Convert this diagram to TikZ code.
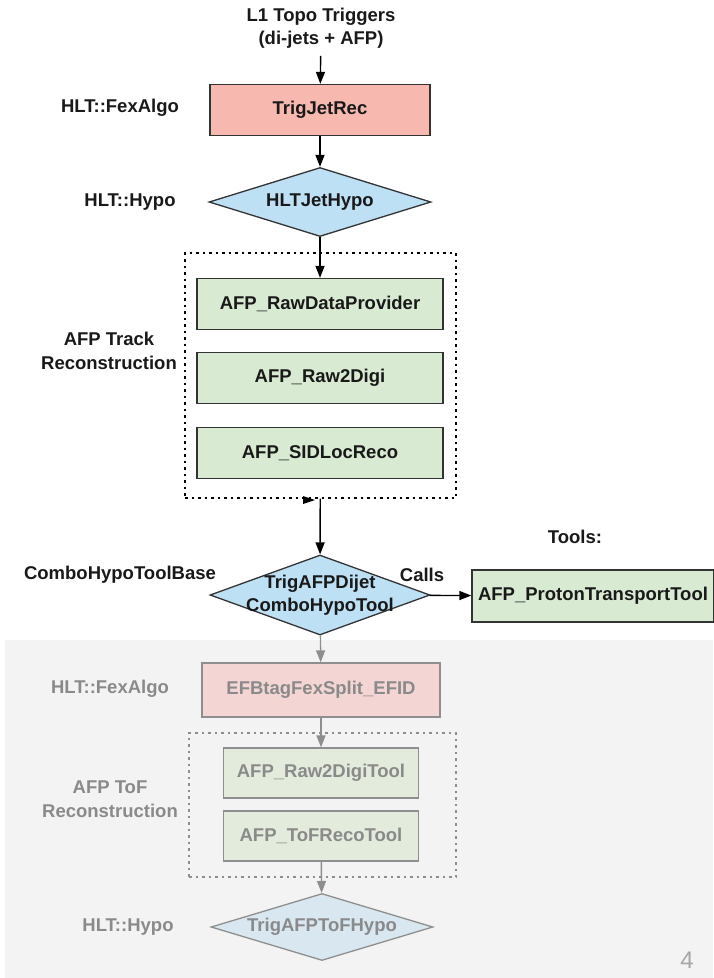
\documentclass[tikz,border=0pt]{standalone}
\usepackage{fontspec}
\setmainfont{Liberation Sans}
\usetikzlibrary{shapes.geometric,arrows.meta,positioning,fit}

\definecolor{fexred}{HTML}{F6B8AF}
\definecolor{hypoblue}{HTML}{BEE0F4}
\definecolor{afpgreen}{HTML}{D9EAD3}
\definecolor{linegray}{HTML}{333333}
\definecolor{panelgray}{HTML}{F3F3F3}
\definecolor{fadetext}{HTML}{8A8A8A}
\definecolor{fadered}{HTML}{F3D6D3}
\definecolor{fadeblue}{HTML}{D8E7F0}
\definecolor{fadegreen}{HTML}{E2EBDC}
\definecolor{fadeline}{HTML}{8E8E8E}

\tikzset{
  algbox/.style={draw=linegray, line width=1.3pt, minimum height=51pt, inner sep=0pt},
  fexbox/.style={algbox, fill=fexred, minimum width=220pt},
  afpbox/.style={algbox, fill=afpgreen, minimum width=246pt},
  hypo/.style={diamond, draw=linegray, line width=1.3pt, fill=hypoblue, inner sep=0pt,
    minimum width=222pt, minimum height=69pt},
  group/.style={draw=black, line width=1.4pt, dash pattern=on 2.5pt off 4pt, inner sep=0pt},
  flow/.style={line width=1.4pt, -{Triangle[length=12pt,width=9pt]}},
  faded/.style={text=fadetext, draw=fadeline},
  fadeflow/.style={flow, draw=fadeline, fill=fadeline},
  side/.style={align=center}
}

\begin{document}
\begin{tikzpicture}[x=1pt, y=-1pt,
    every node/.style={font=\fontsize{18.5}{23.5}\selectfont\bfseries, text=black!90}]
  \useasboundingbox (0,0) rectangle (713,978);

  % lower panel, greyed out
  \fill[panelgray] (5,640) rectangle (713,978);

  % trigger chain
  \node[side] (l1) at (321,28) {L1 Topo Triggers\\(di-jets + AFP)};
  \node[fexbox] (jetrec) at (320,110) {TrigJetRec};
  \node[hypo, label={center:HLTJetHypo}] (jethypo) at (320,202) {};

  \node[afpbox] (rawdata) at (320,304) {AFP\_RawDataProvider};
  \node[afpbox] (raw2digi) at (320,378) {AFP\_Raw2Digi};
  \node[afpbox] (sidloc) at (320,453) {AFP\_SIDLocReco};
  \node[group, fit={(185,253) (456,498)}] (track) {};

  \node[hypo, minimum height=80pt, minimum width=220pt,
    label={[align=center]center:TrigAFPDijet\\ComboHypoTool}] (combo) at (320,595) {};
  \node[afpbox, minimum width=242pt, minimum height=52pt] (transport) at (593,596)
    {AFP\_ProtonTransportTool};

  % ToF part
  \node[fexbox, faded, fill=fadered, minimum width=238pt, minimum height=54pt] (efbtag)
    at (321,690) {EFBtagFexSplit\_EFID};
  \node[afpbox, faded, fill=fadegreen, minimum width=195pt, minimum height=50pt]
    (raw2digitool) at (321,773) {AFP\_Raw2DigiTool};
  \node[afpbox, faded, fill=fadegreen, minimum width=195pt, minimum height=50pt]
    (tofreco) at (321,836) {AFP\_ToFRecoTool};
  \node[group, draw=fadeline, fit={(189,733) (456,877)}] (tof) {};
  \node[hypo, faded, fill=fadeblue, minimum height=67pt,
    label={[text=fadetext]center:TrigAFPToFHypo}] (tofhypo) at (322,927) {};

  % labels on the left
  \node (fexlbl) at (120,108) {HLT::FexAlgo};
  \node (hypolbl) at (130,202) {HLT::Hypo};
  \node[side] (tracklbl) at (109,351) {AFP Track\\Reconstruction};
  \node (combolbl) at (120,575) {ComboHypoToolBase};
  \node (calls) at (422,575) {Calls};
  \node (tools) at (575,537) {Tools:};
  \node[text=fadetext] (fexlbl2) at (110,689) {HLT::FexAlgo};
  \node[side, text=fadetext] (toflbl) at (110,799) {AFP ToF\\Reconstruction};
  \node[text=fadetext] (hypolbl2) at (128,927) {HLT::Hypo};
  \node[font=\fontsize{24}{26}\selectfont\mdseries, text=black!35] (page) at (687,960) {4};

  % connectors
  \draw[flow, shorten <=4pt] (l1) -- (jetrec);
  \draw[flow] (jetrec) -- (jethypo);
  \draw[flow] (jethypo) -- (rawdata);
  \draw[flow] (track) -- (combo);
  \fill (303,496) -- (315,500) -- (303,504) -- cycle;
  \draw[flow] (combo) -- (transport);
  \draw[fadeflow] (combo) -- (efbtag);
  \draw[fadeflow] (efbtag) -- (raw2digitool);
  \draw[fadeflow] (tofreco) -- (tofhypo);
\end{tikzpicture}
\end{document}
